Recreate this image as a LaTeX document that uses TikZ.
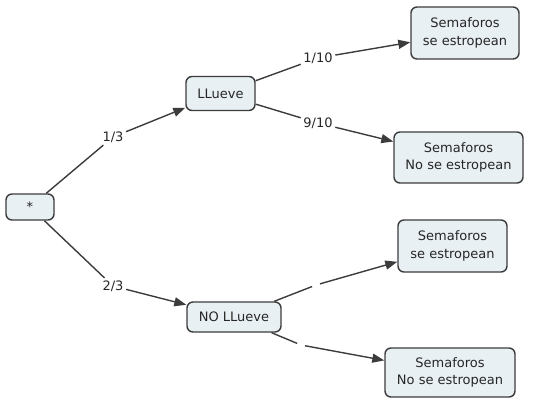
\documentclass[tikz,border=0pt]{standalone}
\usepackage{fontspec}
\setmainfont{DejaVu Sans}
\usetikzlibrary{arrows.meta}
\definecolor{boxfill}{HTML}{E9F0F4}
\definecolor{boxline}{HTML}{3C3C3C}
\definecolor{txt}{HTML}{262626}
\begin{document}
\begin{tikzpicture}[x=1pt,y=-1pt,
  box/.style={draw=boxline,fill=boxfill,rounded corners=6pt,line width=1.4pt,
    align=center,inner sep=0pt,text=txt,font=\fontsize{13}{17.5}\selectfont},
  lab/.style={text=txt,inner sep=2.5pt,font=\fontsize{13}{14}\selectfont},
  gapn/.style={circle,inner sep=0pt,minimum size=8pt},
  con/.style={draw=boxline,line width=1.4pt},
  arr/.style={con,-{Triangle[length=12pt,width=9pt]}}]
\useasboundingbox (0,0) rectangle (555,399);
\node[box,minimum width=48pt,minimum height=26pt] (root) at (30,207) {*};
\node[box,minimum width=69pt,minimum height=34pt] (ll) at (220.5,93.5) {LLueve};
\node[box,minimum width=94pt,minimum height=30pt] (nl) at (234,317) {NO LLueve};
\node[box,minimum width=108pt,minimum height=52pt] (b1) at (465,33) {Semaforos\\se estropean};
\node[box,minimum width=129pt,minimum height=51pt] (b2) at (458.5,157.5) {Semaforos\\No se estropean};
\node[box,minimum width=109pt,minimum height=52pt] (b3) at (452.5,246) {Semaforos\\se estropean};
\node[box,minimum width=130pt,minimum height=49pt] (b4) at (450,372.5) {Semaforos\\No se estropean};
\node[lab] (l13) at (113,137) {1/3};
\node[lab] (l23) at (113,286) {2/3};
\node[lab] (l110) at (318,58) {1/10};
\node[lab] (l910) at (318,123) {9/10};
\node[gapn] (g1) at (316,285) {};
\node[gapn] (g2) at (301,345) {};
\draw[con] (root) -- (l13);
\draw[arr] (l13) -- (ll);
\draw[con] (root) -- (l23);
\draw[arr] (l23) -- (nl);
\draw[con] (ll) -- (l110);
\draw[arr] (l110) -- (b1);
\draw[con] (ll) -- (l910);
\draw[arr] (l910) -- (b2);
\draw[con] (nl) -- (g1);
\draw[arr] (g1) -- (b3);
\draw[con] (nl) -- (g2);
\draw[arr] (g2) -- (b4);
\end{tikzpicture}
\end{document}
